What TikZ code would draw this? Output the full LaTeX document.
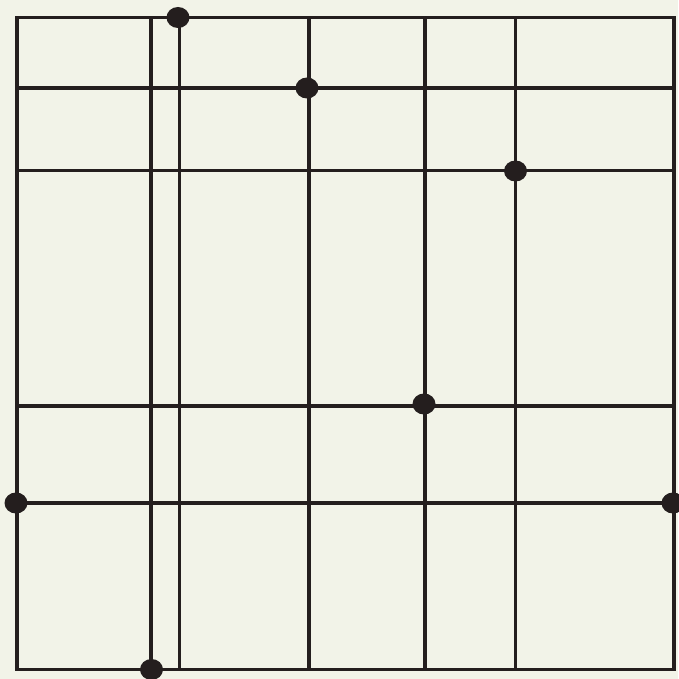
\documentclass[tikz,border=0pt]{standalone}
\definecolor{paper}{HTML}{F2F3E8}
\definecolor{ink}{HTML}{241E1E}
\begin{document}
\begin{tikzpicture}[x=1pt,y=-1pt,
  gridline/.style={draw=ink,line width=3.6pt,line cap=rect},
  dot/.style={fill=ink}]
\fill[paper] (0,0) rectangle (678,679);
\useasboundingbox (0,0) rectangle (678,679);
% border
\draw[gridline,line join=miter] (17,17.5) rectangle (674,669.5);
% interior vertical lines
\foreach \x in {151,179.5,309,425,515.5}
  \draw[gridline] (\x,17.5) -- (\x,669.5);
% interior horizontal lines
\foreach \y in {88,170.5,406,503}
  \draw[gridline] (17,\y) -- (674,\y);
% dots
\foreach \p in {(178,17.5),(307,88),(515.5,171),(424,404),(16,503),(673,503),(151.5,669.5)}
  \fill[dot] \p ellipse [x radius=11.5, y radius=10.5];
\end{tikzpicture}
\end{document}
